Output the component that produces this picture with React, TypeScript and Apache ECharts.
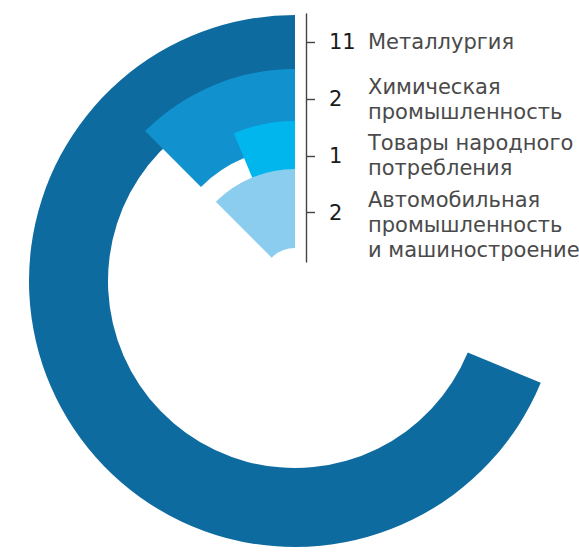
import React, { useEffect, useRef } from "react";
import * as echarts from "echarts";

// ---- data ----
const categories = [
  "Металлургия",
  "Химическая\nпромышленность",
  "Товары народного\nпотребления",
  "Автомобильная\nпромышленность\nи машиностроение",
];
const values = [11, 2, 1, 2];
const colors = ["#0e6ba0", "#1192cf", "#00b6ec", "#8bcdef"];

// ---- layout ----
const CENTER = [295, 281];
const RING_OUTER = [266, 212, 160, 112];
const RING_WIDTH = 79;
const AXIS_MIN = -0.5;
const AXIS_MAX = 3.87;
const FONT = "DejaVu Sans";

export default function App() {
  const ref = useRef<HTMLDivElement>(null);

  useEffect(() => {
    if (!ref.current) return;
    const chart = echarts.init(ref.current, null, { renderer: "svg" });
    const total = values.reduce((a, b) => a + b, 0);
    const idx = categories.map((_, i) => i);

    const numberAxis = {
      type: "value",
      min: AXIS_MIN,
      max: AXIS_MAX,
      inverse: true,
      position: "left",
      axisLine: { show: true, lineStyle: { color: "#444444", width: 1.4 } },
      axisTick: {
        show: true,
        inside: true,
        length: 9,
        customValues: idx,
        lineStyle: { color: "#444444", width: 1.4 },
      },
      splitLine: { show: false },
      axisLabel: {
        show: true,
        inside: true,
        margin: 23,
        customValues: idx,
        showMinLabel: true,
        showMaxLabel: true,
        formatter: (v: number) => String(values[Math.round(v)]),
        color: "#1a1a1a",
        fontSize: 21,
        fontFamily: FONT,
        align: "left",
        verticalAlign: "middle",
      },
    };

    // one label axis per category so that multi-line names never hide each other
    const nameAxes = idx.map((i) => ({
      type: "value",
      min: AXIS_MIN,
      max: AXIS_MAX,
      inverse: true,
      position: "left",
      axisLine: { show: false },
      axisTick: { show: false },
      splitLine: { show: false },
      axisLabel: {
        show: true,
        inside: true,
        margin: 62,
        customValues: [i],
        showMinLabel: true,
        showMaxLabel: true,
        formatter: (v: number) => {
          const name = categories[Math.round(v)];
          const n = name.split("\n").length;
          return (n > 2 ? "\n".repeat(n - 2) : "") + name;
        },
        color: "#4a4a4a",
        fontSize: 21,
        lineHeight: 25,
        fontFamily: FONT,
        align: "left",
        verticalAlign: "middle",
      },
    }));

    const option: any = {
      animation: false,
      backgroundColor: "#ffffff",
      textStyle: { fontFamily: FONT },
      polar: RING_OUTER.map((o) => ({
        center: CENTER,
        radius: [o - RING_WIDTH, o],
      })),
      angleAxis: idx.map((i) => ({
        polarIndex: i,
        type: "value",
        min: 0,
        max: total,
        startAngle: 90,
        clockwise: false,
        show: false,
      })),
      radiusAxis: idx.map((i) => ({
        polarIndex: i,
        type: "category",
        data: [categories[i]],
        show: false,
      })),
      grid: { left: 306, top: 14, height: 248, width: 260 },
      xAxis: { type: "value", min: 0, max: 1, show: false },
      yAxis: [numberAxis, ...nameAxes],
      series: values.map((v, i) => ({
        type: "bar",
        coordinateSystem: "polar",
        polarIndex: i,
        barWidth: "100%",
        z: 2 + i,
        data: [{ value: v, itemStyle: { color: colors[i] } }],
      })),
    };

    chart.setOption(option);
    return () => chart.dispose();
  }, []);

  return (
    <div
      ref={ref}
      style={{ position: "absolute", left: 0, top: 0, width: 579, height: 552 }}
    />
  );
}
